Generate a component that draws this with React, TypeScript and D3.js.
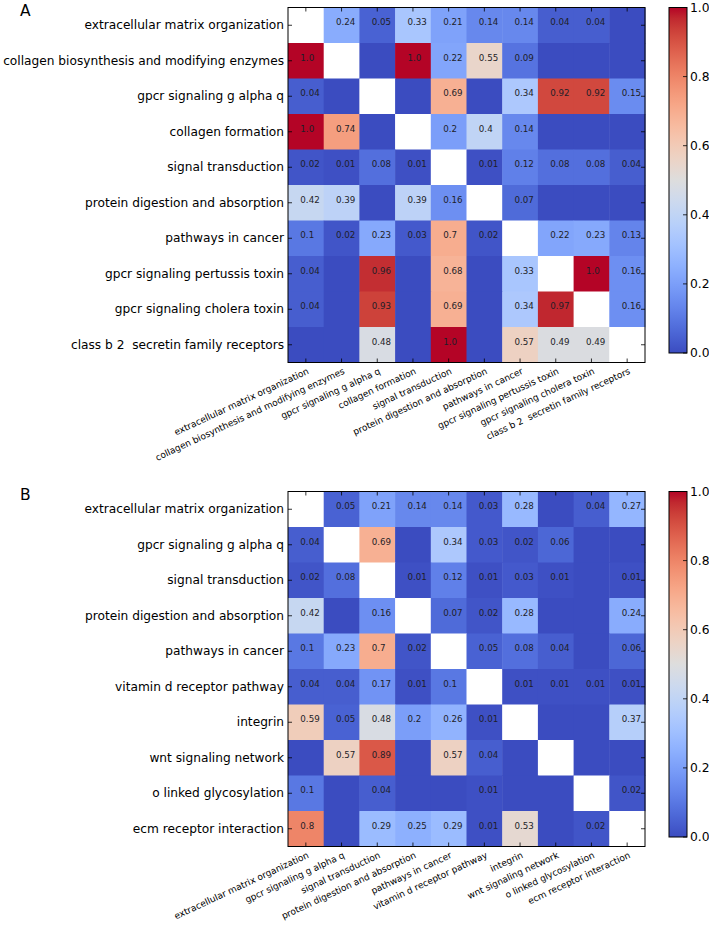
import React from "react";
import * as d3 from "d3";

const labelsA = [
  "extracellular matrix organization",
  "collagen biosynthesis and modifying enzymes",
  "gpcr signaling g alpha q",
  "collagen formation",
  "signal transduction",
  "protein digestion and absorption",
  "pathways in cancer",
  "gpcr signaling pertussis toxin",
  "gpcr signaling cholera toxin",
  "class b 2  secretin family receptors",
];

const valuesA: (number | null)[][] = [
  [null, 0.24, 0.05, 0.33, 0.21, 0.14, 0.14, 0.04, 0.04, 0],
  [1.0, null, 0, 1.0, 0.22, 0.55, 0.09, 0, 0, 0],
  [0.04, 0, null, 0, 0.69, 0, 0.34, 0.92, 0.92, 0.15],
  [1.0, 0.74, 0, null, 0.2, 0.4, 0.14, 0, 0, 0],
  [0.02, 0.01, 0.08, 0.01, null, 0.01, 0.12, 0.08, 0.08, 0.04],
  [0.42, 0.39, 0, 0.39, 0.16, null, 0.07, 0, 0, 0],
  [0.1, 0.02, 0.23, 0.03, 0.7, 0.02, null, 0.22, 0.23, 0.13],
  [0.04, 0, 0.96, 0, 0.68, 0, 0.33, null, 1.0, 0.16],
  [0.04, 0, 0.93, 0, 0.69, 0, 0.34, 0.97, null, 0.16],
  [0, 0, 0.48, 0, 1.0, 0, 0.57, 0.49, 0.49, null],
];

const labelsB = [
  "extracellular matrix organization",
  "gpcr signaling g alpha q",
  "signal transduction",
  "protein digestion and absorption",
  "pathways in cancer",
  "vitamin d receptor pathway",
  "integrin",
  "wnt signaling network",
  "o linked glycosylation",
  "ecm receptor interaction",
];

const valuesB: (number | null)[][] = [
  [null, 0.05, 0.21, 0.14, 0.14, 0.03, 0.28, 0, 0.04, 0.27],
  [0.04, null, 0.69, 0, 0.34, 0.03, 0.02, 0.06, 0, 0],
  [0.02, 0.08, null, 0.01, 0.12, 0.01, 0.03, 0.01, 0, 0.01],
  [0.42, 0, 0.16, null, 0.07, 0.02, 0.28, 0, 0, 0.24],
  [0.1, 0.23, 0.7, 0.02, null, 0.05, 0.08, 0.04, 0, 0.06],
  [0.04, 0.04, 0.17, 0.01, 0.1, null, 0.01, 0.01, 0.01, 0.01],
  [0.59, 0.05, 0.48, 0.2, 0.26, 0.01, null, 0, 0, 0.37],
  [0, 0.57, 0.89, 0, 0.57, 0.04, 0, null, 0, 0],
  [0.1, 0, 0.04, 0, 0, 0.01, 0, 0, null, 0.02],
  [0.8, 0, 0.29, 0.25, 0.29, 0.01, 0.53, 0, 0.02, null],
];

const colorbarTicks = [0, 0.2, 0.4, 0.6, 0.8, 1.0];

// Moreland coolwarm colormap table
const coolwarm: [number, number, number][] = [
  [59, 76, 192], [68, 90, 204], [77, 104, 215], [87, 117, 225], [98, 130, 234],
  [108, 142, 241], [119, 154, 247], [130, 165, 251], [141, 176, 254], [152, 185, 255],
  [163, 194, 255], [174, 201, 253], [184, 208, 249], [194, 213, 244], [204, 217, 238],
  [213, 219, 230], [221, 221, 221], [229, 216, 209], [236, 211, 197], [241, 204, 185],
  [245, 196, 173], [247, 187, 160], [247, 177, 148], [247, 166, 135], [244, 154, 123],
  [241, 141, 111], [236, 127, 99], [229, 112, 88], [222, 96, 77], [213, 80, 66],
  [203, 62, 56], [192, 40, 47], [180, 4, 38],
];

const cmapColors = coolwarm.map(([r, g, b]) => d3.rgb(r, g, b).formatHex());
const colorScale = d3
  .scaleLinear<string>()
  .domain(cmapColors.map((_, i) => i / (cmapColors.length - 1)))
  .range(cmapColors)
  .interpolate(d3.interpolateRgb)
  .clamp(true);

const fmt = (v: number) => (Number.isInteger(v) ? v.toFixed(1) : String(v));

const FONT = "'DejaVu Sans', sans-serif";

type PanelProps = {
  letter: string;
  labels: string[];
  values: (number | null)[][];
  top: number;
  gradId: string;
};

function Panel({ letter, labels, values, top, gradId }: PanelProps) {
  const left = 288;
  const right = 645;
  const height = 355;
  const idx = labels.map((_, i) => i);
  const x = d3.scaleBand<number>().domain(idx).range([left, right]);
  const y = d3.scaleBand<number>().domain(idx).range([top, top + height]);
  const cw = x.bandwidth();
  const ch = y.bandwidth();
  const bottom = top + height;

  const cbX = 669;
  const cbW = 18;
  const cbTop = top;
  const cbBottom = top + 345.5;
  const cbScale = d3.scaleLinear().domain([0, 1]).range([cbBottom, cbTop]);

  return (
    <g>
      <text x={20} y={top + 8} fontSize={15.5} fontFamily={FONT} fill="#000">
        {letter}
      </text>
      {values.map((row, i) =>
        row.map((v, j) => (
          <rect
            key={`c${i}-${j}`}
            x={x(j)}
            y={y(i)}
            width={cw + 0.5}
            height={ch + 0.5}
            fill={v === null ? "#ffffff" : colorScale(v)}
          />
        ))
      )}
      {values.map((row, i) =>
        row.map((v, j) =>
          v !== null && v > 0 ? (
            <text
              key={`t${i}-${j}`}
              x={(x(j) as number) + cw / 2 - 5.5}
              y={(y(i) as number) + ch / 2}
              fontSize={8.7}
              fontFamily={FONT}
              fill="#1e1e28"
            >
              {fmt(v)}
            </text>
          ) : null
        )
      )}
      <rect x={left} y={top} width={right - left} height={height} fill="none" stroke="#000" strokeWidth={1} />
      {idx.map((i) => {
        const cx = (x(i) as number) + cw / 2;
        const cy = (y(i) as number) + ch / 2;
        return (
          <g key={`tk${i}`} stroke="#000" strokeWidth={0.8}>
            <line x1={cx} x2={cx} y1={top} y2={top + 4} />
            <line x1={cx} x2={cx} y1={bottom} y2={bottom - 4} />
            <line x1={left} x2={left + 4} y1={cy} y2={cy} />
            <line x1={right} x2={right - 4} y1={cy} y2={cy} />
          </g>
        );
      })}
      {labels.map((lab, i) => (
        <text
          key={`yl${i}`}
          x={left - 4}
          y={(y(i) as number) + ch / 2}
          textAnchor="end"
          dominantBaseline="central"
          fontSize={12.2}
          fontFamily={FONT}
          fill="#000"
          style={{ whiteSpace: "pre" }}
        >
          {lab}
        </text>
      ))}
      {labels.map((lab, i) => {
        const cx = (x(i) as number) + cw / 2 + 1;
        const ty = bottom + 5;
        return (
          <text
            key={`xl${i}`}
            transform={`translate(${cx},${ty}) rotate(-25)`}
            textAnchor="end"
            dy="0.7em"
            fontSize={9}
            fontFamily={FONT}
            fill="#000"
            style={{ whiteSpace: "pre" }}
          >
            {lab}
          </text>
        );
      })}
      <defs>
        <linearGradient id={gradId} x1="0" y1="1" x2="0" y2="0">
          {cmapColors.map((c, i) => (
            <stop key={i} offset={i / (cmapColors.length - 1)} stopColor={c} />
          ))}
        </linearGradient>
      </defs>
      <rect x={cbX} y={cbTop} width={cbW} height={cbBottom - cbTop} fill={`url(#${gradId})`} stroke="#000" strokeWidth={1} />
      {colorbarTicks.map((t) => (
        <g key={`cb${t}`}>
          <line x1={cbX + cbW} x2={cbX + cbW - 4} y1={cbScale(t)} y2={cbScale(t)} stroke="#000" strokeWidth={0.8} />
          <text
            x={cbX + cbW + 3}
            y={cbScale(t)}
            dominantBaseline="central"
            fontSize={12.3}
            fontFamily={FONT}
            fill="#000"
          >
            {t.toFixed(1)}
          </text>
        </g>
      ))}
    </g>
  );
}

export default function App() {
  return (
    <svg
      width={709}
      height={926}
      style={{ position: "absolute", left: 0, top: 0, background: "#fff" }}
    >
      <rect width={709} height={926} fill="#fff" />
      <Panel letter="A" labels={labelsA} values={valuesA} top={7.5} gradId="gradA" />
      <Panel letter="B" labels={labelsB} values={valuesB} top={491.5} gradId="gradB" />
    </svg>
  );
}
